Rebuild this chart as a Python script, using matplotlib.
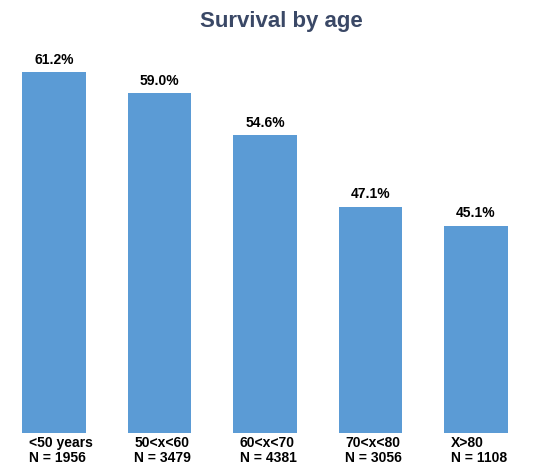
import matplotlib
matplotlib.use("Agg")
import matplotlib.pyplot as plt

matplotlib.rcParams.update({'font.family': 'Liberation Sans'})

# Survival per age group
groups = ['<50 years', '50<x<60', '60<x<70', '70<x<80', 'X>80']
counts = [1956, 3479, 4381, 3056, 1108]
survival = [61.2, 59.0, 54.6, 47.1, 45.1]

bar_color = '#5B9BD5'
title_color = '#3A4866'

fig = plt.figure(figsize=(5.42, 4.74), dpi=100)
ax = fig.add_axes([0.0, 0.0865, 1.0, 0.9135])

x = list(range(len(groups)))
bars = ax.bar(x, survival, width=0.6, color=bar_color)

for b, v in zip(bars, survival):
    ax.annotate(f'{v:.1f}%', (b.get_x() + b.get_width() / 2, v),
                xytext=(0, 4), textcoords='offset points',
                ha='center', va='bottom', fontsize=10, fontweight='bold')

ax.set_xlim(-0.512, 4.626)
ax.set_ylim(23.3, 68.8)

# category labels start a little inside each bar's left edge
ax.set_xticks([i - 0.24 for i in x])
ax.set_xticklabels([f'{g}\nN = {n}' for g, n in zip(groups, counts)],
                   fontsize=10, fontweight='bold', linespacing=1.15)
for lbl in ax.get_xticklabels():
    lbl.set_horizontalalignment('left')
ax.tick_params(axis='x', length=0, pad=2)
ax.set_yticks([])
for s in ax.spines.values():
    s.set_visible(False)

fig.text(0.52, 0.955, 'Survival by age', ha='center', va='center',
         fontsize=16, fontweight='bold', color=title_color)

fig.savefig('out.png', dpi=100)
